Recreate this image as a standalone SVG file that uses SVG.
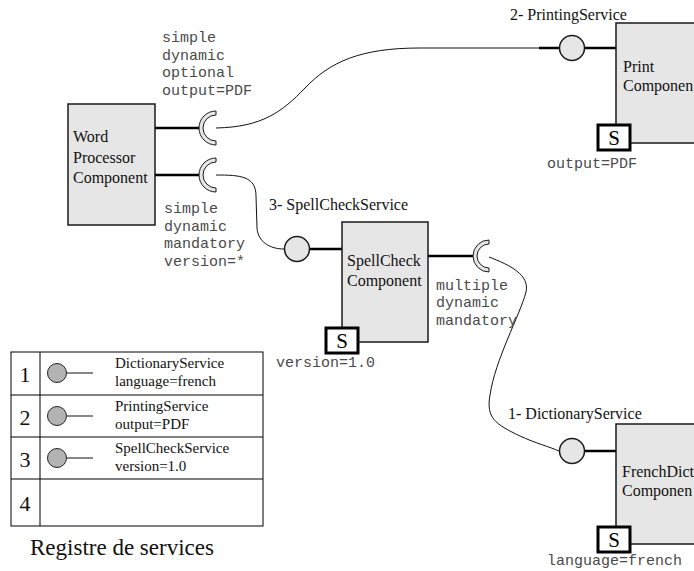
<svg xmlns="http://www.w3.org/2000/svg" width="694" height="571" viewBox="0 0 694 571">
<style>
.bg{fill:#ffffff}
.comp{fill:#e6e6e6;stroke:#1a1a1a;stroke-width:1.5}
.sbox{fill:#ffffff;stroke:#000;stroke-width:3}
.stxt{font-family:"Liberation Serif",serif;font-size:21px;fill:#000}
.ser{font-family:"Liberation Serif",serif;font-size:16px;fill:#111}
.tser{font-family:"Liberation Serif",serif;font-size:15px;fill:#111}
.mono{font-family:"Liberation Mono",monospace;font-size:15px;fill:#4a4a4a}
.thick{stroke:#000;stroke-width:2.5;fill:none}
.wire{stroke:#111;stroke-width:1;fill:none}
.prov{fill:#e6e6e6;stroke:#1a1a1a;stroke-width:1.5}
.recp{fill:#e6e6e6;stroke:#1a1a1a;stroke-width:1}
.tbl{fill:none;stroke:#000;stroke-width:1}
.tcirc{fill:#b3b3b3;stroke:#222;stroke-width:1}
.num{font-family:"Liberation Serif",serif;font-size:22px;fill:#111}
</style>
<rect class="bg" x="0" y="0" width="694" height="571"/>

<g id="connectors">
  <path class="wire" d="M216,128 C262,127 282,112 305,88 C330,62 360,48 420,48 L539,48"/>
  <line class="thick" x1="539" y1="48" x2="560" y2="48"/>
  <path class="wire" d="M216,175 C240,175 256,176 256,196 L257,228 C258,242 270,249 284,249"/>
  <path class="wire" d="M489,257 C510,265 530,275 526,292 C520,315 495,360 490,395 C486,418 495,424 520,436 C535,443 550,447 559,451"/>
</g>

<g id="word-processor">
  <rect class="comp" x="68" y="104" width="87" height="121"/>
  <text class="ser" x="73" y="142">Word</text>
  <text class="ser" x="73" y="163">Processor</text>
  <text class="ser" x="73" y="183">Component</text>
  <line class="thick" x1="155" y1="128" x2="200" y2="128"/>
  <path class="recp" d="M216,111 A17,17 0 0 0 216,145 L216,141 A13,13 0 0 1 216,115 Z"/>
  <line class="thick" x1="155" y1="175" x2="200" y2="175"/>
  <path class="recp" d="M216,158 A17,17 0 0 0 216,192 L216,188 A13,13 0 0 1 216,162 Z"/>
  <text class="mono" x="162" y="42">simple</text>
  <text class="mono" x="162" y="60">dynamic</text>
  <text class="mono" x="162" y="77">optional</text>
  <text class="mono" x="162" y="95">output=PDF</text>
  <text class="mono" x="164" y="213">simple</text>
  <text class="mono" x="164" y="231">dynamic</text>
  <text class="mono" x="164" y="248">mandatory</text>
  <text class="mono" x="164" y="266">version=*</text>
</g>

<g id="print-component">
  <text class="ser" x="510" y="20">2- PrintingService</text>
  <line class="thick" x1="584" y1="48" x2="616" y2="48"/>
  <circle class="prov" cx="572" cy="48" r="12.5"/>
  <rect class="comp" x="616" y="23" width="90" height="120"/>
  <text class="ser" x="623" y="72">Print</text>
  <text class="ser" x="623" y="91">Componen</text>
  <rect class="sbox" x="598" y="125" width="32" height="25"/>
  <text class="stxt" x="614" y="145" text-anchor="middle">S</text>
  <text class="mono" x="547" y="168">output=PDF</text>
</g>

<g id="spellcheck-component">
  <text class="ser" x="269" y="210">3- SpellCheckService</text>
  <line class="thick" x1="309" y1="249" x2="342" y2="249"/>
  <circle class="prov" cx="297" cy="249" r="12.5"/>
  <rect class="comp" x="342" y="222" width="86" height="120"/>
  <text class="ser" x="347" y="266">SpellCheck</text>
  <text class="ser" x="347" y="286">Component</text>
  <line class="thick" x1="428" y1="256" x2="474" y2="256"/>
  <path class="recp" d="M489,240 A16,16 0 0 0 489,272 L489,268 A12,12 0 0 1 489,244 Z"/>
  <text class="mono" x="436" y="290">multiple</text>
  <text class="mono" x="436" y="307">dynamic</text>
  <text class="mono" x="436" y="325">mandatory</text>
  <rect class="sbox" x="326" y="328" width="32" height="25"/>
  <text class="stxt" x="342" y="348" text-anchor="middle">S</text>
  <text class="mono" x="276" y="367">version=1.0</text>
</g>

<g id="frenchdictionary-component">
  <text class="ser" x="508" y="419">1- DictionaryService</text>
  <line class="thick" x1="584" y1="451" x2="616" y2="451"/>
  <circle class="prov" cx="572" cy="451" r="12.5"/>
  <rect class="comp" x="616" y="424" width="90" height="120"/>
  <text class="ser" x="622" y="477">FrenchDict</text>
  <text class="ser" x="622" y="496">Componen</text>
  <rect class="sbox" x="598" y="527" width="32" height="25"/>
  <text class="stxt" x="614" y="547" text-anchor="middle">S</text>
  <text class="mono" x="547" y="565">language=french</text>
</g>

<g id="registry">
  <rect class="tbl" x="11" y="352" width="252" height="174"/>
  <line class="tbl" x1="40" y1="352" x2="40" y2="526"/>
  <line class="tbl" x1="11" y1="395" x2="263" y2="395"/>
  <line class="tbl" x1="11" y1="437" x2="263" y2="437"/>
  <line class="tbl" x1="11" y1="479" x2="263" y2="479"/>
  <text class="num" x="25" y="382" text-anchor="middle">1</text>
  <text class="num" x="25" y="425" text-anchor="middle">2</text>
  <text class="num" x="25" y="467" text-anchor="middle">3</text>
  <text class="num" x="25" y="511" text-anchor="middle">4</text>
  <line class="wire" x1="66" y1="373" x2="93" y2="373"/>
  <circle class="tcirc" cx="57" cy="373" r="9.5"/>
  <line class="wire" x1="66" y1="416" x2="93" y2="416"/>
  <circle class="tcirc" cx="57" cy="416" r="9.5"/>
  <line class="wire" x1="66" y1="458" x2="93" y2="458"/>
  <circle class="tcirc" cx="57" cy="458" r="9.5"/>
  <text class="tser" x="115" y="368">DictionaryService</text>
  <text class="tser" x="115" y="386">language=french</text>
  <text class="tser" x="115" y="411">PrintingService</text>
  <text class="tser" x="115" y="429">output=PDF</text>
  <text class="tser" x="115" y="453">SpellCheckService</text>
  <text class="tser" x="115" y="471">version=1.0</text>
  <text class="ser" x="30" y="555" style="font-size:23px">Registre de services</text>
</g>
</svg>
